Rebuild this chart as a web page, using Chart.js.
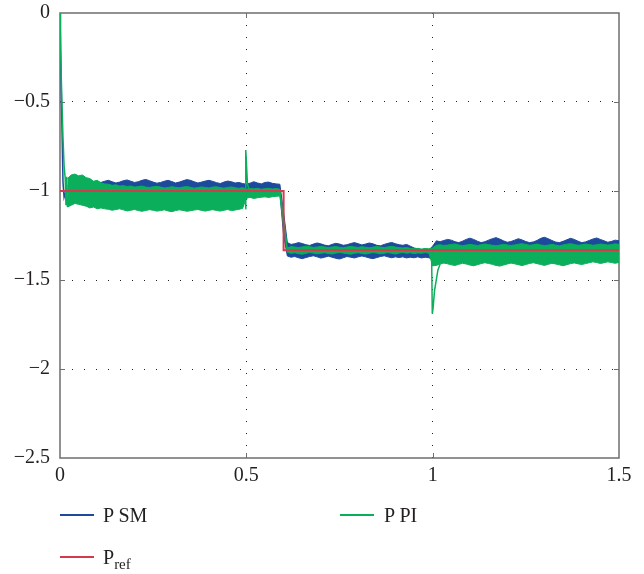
<!DOCTYPE html>
<html>
<head>
<meta charset="utf-8">
<script src="https://cdn.jsdelivr.net/npm/chart.js@4/dist/chart.umd.min.js"></script>
<style>
  body { margin: 0; background: #fff; }
  #caja { position: relative; width: 644px; height: 574px; }
  #grafica { position: absolute; left: 0; top: 0; }
  .ley { position: absolute; font-family: "Liberation Serif", serif; font-size: 20px; color: #231f20; line-height: 20px; }
  .ley sub { font-size: 15px; vertical-align: -5px; line-height: 0; }
  .raya { position: absolute; height: 2px; width: 34px; }
</style>
</head>
<body>
<div id="caja">
  <canvas id="grafica" width="644" height="574"></canvas>
  <div class="raya" style="left:60px; top:514px; background:#1d4a9c"></div>
  <div class="ley" style="left:103px; top:505px">P SM</div>
  <div class="raya" style="left:340px; top:514px; background:#0bae5a"></div>
  <div class="ley" style="left:384px; top:505px">P PI</div>
  <div class="raya" style="left:60px; top:556px; background:#d23a4e"></div>
  <div class="ley" style="left:103px; top:547px">P<sub>ref</sub></div>
</div>
<script>
// muestras cada 0.01 s desde 0.02 hasta 1.5
const t0 = 0.02, dt = 0.01, nMuestras = 149;

// P PI (verde): envolvente superior e inferior de la banda de rizado
const piSup = [
  -0.93, -0.91, -0.905, -0.915, -0.91, -0.925, -0.93, -0.945, -0.94, -0.955,
  -0.96, -0.962, -0.968, -0.965, -0.972, -0.97, -0.975, -0.972, -0.978, -0.975,
  -0.972, -0.978, -0.98, -0.976, -0.974, -0.978, -0.983, -0.98, -0.976, -0.979,
  -0.982, -0.978, -0.975, -0.979, -0.984, -0.981, -0.977, -0.98, -0.983, -0.978,
  -0.976, -0.981, -0.984, -0.98, -0.977, -0.982, -0.985, -0.981, -0.99, -0.986,
  -0.988, -0.985, -0.99, -0.987, -0.985, -0.989, -0.986, -0.99, -1.15, -1.32,
  -1.312, -1.315, -1.318, -1.314, -1.31, -1.313, -1.317, -1.315, -1.311, -1.314,
  -1.318, -1.315, -1.312, -1.316, -1.319, -1.315, -1.311, -1.314, -1.317, -1.313,
  -1.316, -1.319, -1.315, -1.312, -1.315, -1.318, -1.314, -1.311, -1.315, -1.318,
  -1.32, -1.318, -1.322, -1.325, -1.322, -1.326, -1.323, -1.325, -1.32, -1.305,
  -1.302, -1.306, -1.304, -1.30, -1.298, -1.303, -1.307, -1.304, -1.30, -1.303,
  -1.306, -1.302, -1.298, -1.301, -1.305, -1.308, -1.304, -1.30, -1.303, -1.306,
  -1.303, -1.299, -1.296, -1.30, -1.305, -1.302, -1.298, -1.303, -1.307, -1.304,
  -1.30, -1.304, -1.308, -1.303, -1.299, -1.296, -1.30, -1.305, -1.302, -1.298,
  -1.301, -1.305, -1.302, -1.298, -1.30, -1.304, -1.301, -1.297, -1.30
];
const piInf = [
  -1.09, -1.08, -1.07, -1.075, -1.08, -1.085, -1.095, -1.09, -1.10, -1.095,
  -1.10, -1.103, -1.108, -1.104, -1.10, -1.106, -1.112, -1.108, -1.104, -1.11,
  -1.114, -1.109, -1.105, -1.108, -1.113, -1.11, -1.106, -1.112, -1.116, -1.11,
  -1.106, -1.109, -1.114, -1.111, -1.107, -1.104, -1.109, -1.113, -1.108, -1.105,
  -1.109, -1.113, -1.108, -1.104, -1.11, -1.107, -1.103, -1.098, -1.04, -1.036,
  -1.042, -1.038, -1.035, -1.033, -1.036, -1.032, -1.03, -1.028, -1.20, -1.345,
  -1.35, -1.347, -1.352, -1.355, -1.35, -1.346, -1.349, -1.353, -1.35, -1.347,
  -1.351, -1.354, -1.349, -1.345, -1.349, -1.352, -1.355, -1.35, -1.347, -1.351,
  -1.354, -1.35, -1.346, -1.349, -1.353, -1.35, -1.346, -1.35, -1.354, -1.349,
  -1.345, -1.35, -1.347, -1.352, -1.348, -1.35, -1.346, -1.35, -1.42, -1.418,
  -1.41, -1.405, -1.409, -1.415, -1.418, -1.412, -1.406, -1.41, -1.416, -1.42,
  -1.414, -1.408, -1.403, -1.407, -1.412, -1.418, -1.422, -1.416, -1.41, -1.405,
  -1.409, -1.414, -1.419, -1.413, -1.407, -1.403, -1.408, -1.413, -1.418, -1.412,
  -1.406, -1.41, -1.415, -1.42, -1.414, -1.408, -1.404, -1.409, -1.413, -1.408,
  -1.403, -1.398, -1.402, -1.407, -1.403, -1.398, -1.402, -1.406, -1.401
];

// P SM (azul)
const smSup = [
  -0.97, -0.97, -0.965, -0.97, -0.965, -0.97, -0.965, -0.955, -0.948, -0.952,
  -0.945, -0.94, -0.948, -0.955, -0.95, -0.942, -0.938, -0.945, -0.952, -0.948,
  -0.94, -0.935, -0.942, -0.95, -0.956, -0.952, -0.945, -0.94, -0.947, -0.955,
  -0.95, -0.943, -0.936, -0.94, -0.948, -0.955, -0.95, -0.944, -0.94, -0.946,
  -0.953, -0.958, -0.95, -0.944, -0.948, -0.955, -0.952, -0.958, -0.962, -0.956,
  -0.948, -0.955, -0.96, -0.952, -0.95, -0.957, -0.96, -0.962, -1.12, -1.29,
  -1.30, -1.296, -1.29, -1.295, -1.302, -1.306, -1.298, -1.292, -1.297, -1.304,
  -1.308, -1.30, -1.294, -1.298, -1.305, -1.302, -1.295, -1.29, -1.296, -1.303,
  -1.298, -1.292, -1.297, -1.305, -1.308, -1.30, -1.294, -1.289, -1.296, -1.302,
  -1.305, -1.30, -1.31, -1.32, -1.325, -1.33, -1.325, -1.33, -1.31, -1.28,
  -1.285, -1.278, -1.272, -1.276, -1.285, -1.29, -1.282, -1.272, -1.265, -1.272,
  -1.282, -1.29, -1.285, -1.276, -1.268, -1.262, -1.27, -1.28, -1.288, -1.284,
  -1.276, -1.268, -1.275, -1.284, -1.29, -1.286, -1.278, -1.266, -1.26, -1.268,
  -1.278, -1.287, -1.29, -1.283, -1.274, -1.266, -1.272, -1.282, -1.29, -1.286,
  -1.278, -1.27, -1.264, -1.272, -1.28, -1.288, -1.283, -1.276, -1.28
];
const smInf = [
  -1.01, -1.015, -1.005, -1.01, -1.015, -1.01, -1.005, -1.01, -1.015, -1.01,
  -1.005, -1.01, -1.015, -1.01, -1.005, -1.01, -1.015, -1.01, -1.005, -1.01,
  -1.015, -1.01, -1.005, -1.01, -1.015, -1.01, -1.005, -1.01, -1.015, -1.01,
  -1.005, -1.01, -1.015, -1.01, -1.005, -1.01, -1.015, -1.01, -1.005, -1.01,
  -1.015, -1.01, -1.005, -1.01, -1.015, -1.01, -1.005, -1.01, -1.02, -1.01,
  -1.015, -1.01, -1.02, -1.015, -1.01, -1.02, -1.015, -1.01, -1.25, -1.365,
  -1.372, -1.368, -1.375, -1.38, -1.374, -1.368, -1.364, -1.37, -1.377, -1.372,
  -1.366, -1.372, -1.378, -1.382, -1.375, -1.368, -1.372, -1.376, -1.37, -1.365,
  -1.37, -1.376, -1.38, -1.374, -1.368, -1.364, -1.37, -1.375, -1.37, -1.374,
  -1.37, -1.376, -1.372, -1.375, -1.37, -1.376, -1.372, -1.375, -1.385, -1.33,
  -1.335, -1.33, -1.325, -1.33, -1.335, -1.33, -1.325, -1.33, -1.335, -1.33,
  -1.325, -1.33, -1.335, -1.33, -1.325, -1.33, -1.335, -1.33, -1.325, -1.33,
  -1.335, -1.33, -1.325, -1.33, -1.335, -1.33, -1.325, -1.33, -1.335, -1.33,
  -1.325, -1.33, -1.335, -1.33, -1.325, -1.33, -1.335, -1.33, -1.325, -1.33,
  -1.335, -1.33, -1.325, -1.33, -1.335, -1.33, -1.325, -1.33, -1.335
];

// transitorios (arranque, escalón de carga en 0.5 s y en 1 s)
const piArranqueT = [0, 0.0015, 0.005, 0.008, 0.011, 0.014, 0.016, 0.018, 0.02];
const piArranqueP = [0, -0.2, -0.49, -0.7, -0.86, -0.93, -1.08, -0.92, -1.09];
const pi05T = [0.4975, 0.4985, 0.503, 0.507];
const pi05P = [-1.10, -0.77, -0.96, -0.99];
const pi10T = [0.997, 0.999, 1.001, 1.005, 1.014, 1.02];
const pi10P = [-1.33, -1.69, -1.66, -1.56, -1.445, -1.41];
const smArranqueT = [0, 0.004, 0.008, 0.011, 0.016, 0.02];
const smArranqueP = [0, -0.5, -0.95, -1.035, -1.0, -0.99];
const sm05T = [0.498, 0.50, 0.503];
const sm05P = [-0.98, -1.05, -1.0];
const sm10T = [0.997, 1.0, 1.003];
const sm10P = [-1.35, -1.385, -1.33];

// potencia de referencia
const refT = [0, 0.6, 0.6, 1.5];
const refP = [-1, -1, -1.333, -1.333];

const ticksX = [0, 0.5, 1, 1.5];
const ticksY = [0, -0.5, -1, -1.5, -2, -2.5];

const AZUL = '#1d4a9c', VERDE = '#0bae5a', ROJO = '#d23a4e';

const tiempos = Array.from({ length: nMuestras }, (_, i) => +(t0 + i * dt).toFixed(2));
const pares = (xs, ys) => xs.map((x, i) => ({ x: x, y: ys[i] }));

function linea(datos, color, orden, extra) {
  return Object.assign({
    data: datos,
    borderColor: color,
    backgroundColor: color,
    borderWidth: 1,
    pointRadius: 0,
    tension: 0,
    fill: false,
    order: orden
  }, extra || {});
}

// marco gris y marcas hacia dentro
const marco = {
  id: 'marco',
  beforeDatasetsDraw(chart) {
    const { ctx, chartArea: a, scales } = chart;
    ctx.save();
    ctx.strokeStyle = '#6d6e71';
    ctx.lineWidth = 1.5;
    ctx.strokeRect(a.left, a.top, a.right - a.left, a.bottom - a.top);
    ctx.lineWidth = 1;
    ctx.beginPath();
    ticksX.slice(1, -1).forEach(v => {
      const px = Math.round(scales.x.getPixelForValue(v)) + 0.5;
      ctx.moveTo(px, a.bottom); ctx.lineTo(px, a.bottom - 5);
      ctx.moveTo(px, a.top); ctx.lineTo(px, a.top + 5);
    });
    ticksY.slice(1, -1).forEach(v => {
      const py = Math.round(scales.y.getPixelForValue(v)) + 0.5;
      ctx.moveTo(a.left, py); ctx.lineTo(a.left + 5, py);
      ctx.moveTo(a.right, py); ctx.lineTo(a.right - 5, py);
    });
    ctx.stroke();
    ctx.restore();
  }
};

const rejilla = (ctx) => {
  const v = ctx.tick && ctx.tick.value;
  return (v === 0 || v === 1.5 || v === -2.5) ? 'rgba(0,0,0,0)' : '#222';
};

const fuente = { family: '"Liberation Serif", serif', size: 20 };

new Chart(document.getElementById('grafica'), {
  type: 'line',
  data: {
    datasets: [
      linea(pares(refT, refP), ROJO, 0, { borderWidth: 2 }),
      linea(pares(pi05T, pi05P), VERDE, 1, { borderWidth: 1.5 }),
      linea(pares(pi10T, pi10P), VERDE, 1, { borderWidth: 1.5 }),
      linea(pares(piArranqueT, piArranqueP), VERDE, 1, { borderWidth: 1.5 }),
      linea(pares(tiempos, piSup), VERDE, 1),
      linea(pares(tiempos, piInf), VERDE, 1, { fill: '-1' }),
      linea(pares(sm05T, sm05P), AZUL, 2, { borderWidth: 1.5 }),
      linea(pares(sm10T, sm10P), AZUL, 2, { borderWidth: 1.5 }),
      linea(pares(smArranqueT, smArranqueP), AZUL, 2, { borderWidth: 1.5 }),
      linea(pares(tiempos, smSup), AZUL, 2),
      linea(pares(tiempos, smInf), AZUL, 2, { fill: '-1' })
    ]
  },
  options: {
    responsive: false,
    animation: false,
    devicePixelRatio: 1,
    layout: { padding: { top: 13, right: 25, left: 0, bottom: 0 } },
    plugins: { legend: { display: false }, tooltip: { enabled: false } },
    scales: {
      x: {
        type: 'linear', min: 0, max: 1.5,
        afterFit(s) { s.height = 116; },
        afterBuildTicks(s) { s.ticks = ticksX.map(v => ({ value: v })); },
        ticks: { font: fuente, color: '#231f20', padding: 6, maxRotation: 0,
                 callback: v => String(v) },
        grid: { color: rejilla, lineWidth: 1, drawTicks: false },
        border: { display: false, dash: [1, 11] }
      },
      y: {
        min: -2.5, max: 0,
        afterFit(s) { s.width = 60; s.paddingTop = 0; s.paddingBottom = 0; },
        afterBuildTicks(s) { s.ticks = ticksY.map(v => ({ value: v })); },
        ticks: { font: fuente, color: '#231f20', padding: 10,
                 callback: v => v === 0 ? '0' : '\u2212' + Math.abs(v) },
        grid: { color: rejilla, lineWidth: 1, drawTicks: false },
        border: { display: false, dash: [1, 11] }
      }
    }
  },
  plugins: [marco]
});
</script>
</body>
</html>
